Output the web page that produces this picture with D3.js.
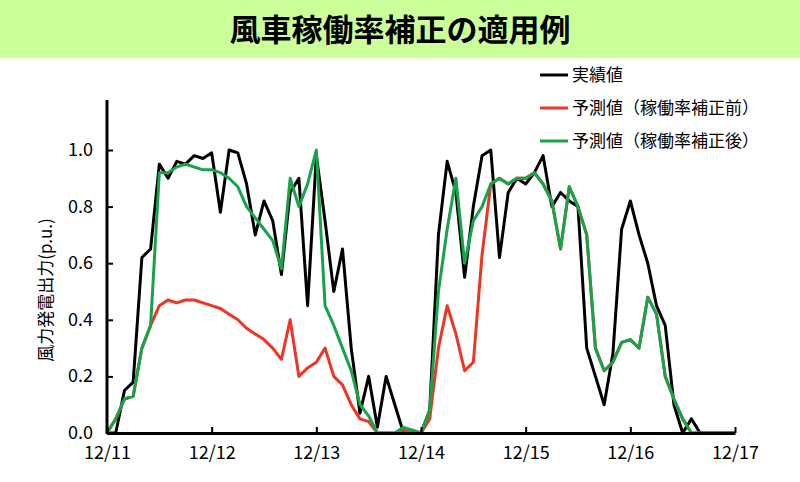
<!DOCTYPE html>
<html><head><meta charset="utf-8">
<script src="https://cdn.jsdelivr.net/npm/d3@7"></script>
<style>body{margin:0;background:#fff;font-family:"Noto Sans CJK JP","Noto Sans",sans-serif}</style>
</head><body><svg width="800" height="482"></svg>
<script>
// values every 2 hours from 12/11 00:00
const hours = d3.range(0, 145, 2);
const actual = [0,0,0.15,0.18,0.62,0.65, 0.95,0.9,0.96,0.95,0.98,0.97, 0.99,0.78,1.0,0.99,0.88,0.7,
  0.82,0.75,0.56,0.85,0.9,0.45, 0.98,0.75,0.5,0.65,0.3,0.07, 0.2,0.02,0.2,0.1,0,0,
  0,0.08,0.7,0.96,0.85,0.55, 0.8,0.98,1.0,0.62,0.85,0.9, 0.88,0.92,0.98,0.8,0.85,0.82,
  0.8,0.3,0.2,0.1,0.28,0.72, 0.82,0.7,0.6,0.45,0.38,0.1, 0,0.05,0,0,0,0,0];
const before = [0,0.05,0.12,0.13,0.3,0.38, 0.45,0.47,0.46,0.47,0.47,0.46, 0.45,0.44,0.42,0.40,0.37,0.35,
  0.33,0.3,0.26,0.4,0.2,0.23, 0.25,0.3,0.2,0.17,0.1,0.05, 0.04,0,0,0,0.01,0.01,
  0,0.05,0.3,0.45,0.35,0.22, 0.25,0.63,0.88,0.9,0.88,0.9, 0.9,0.92,0.88,0.82,0.65,0.87,
  0.8,0.7,0.3,0.22,0.25,0.32, 0.33,0.3,0.48,0.42,0.2,0.12, 0.05,0,0,0,0,0,0];
const after = [0,0.05,0.12,0.13,0.3,0.38, 0.92,0.92,0.94,0.95,0.94,0.93, 0.93,0.92,0.9,0.87,0.8,0.76,
  0.72,0.68,0.58,0.9,0.8,0.88, 1.0,0.45,0.38,0.3,0.22,0.1, 0.06,0,0,0,0.02,0.01,
  0,0.08,0.5,0.72,0.9,0.6, 0.75,0.8,0.88,0.9,0.88,0.9, 0.9,0.92,0.88,0.82,0.65,0.87,
  0.8,0.7,0.3,0.22,0.25,0.32, 0.33,0.3,0.48,0.42,0.2,0.12, 0.05,0,0,0,0,0,0];
const dayLabels = ["12/11","12/12","12/13","12/14","12/15","12/16","12/17"];
const yTicks = [0,0.2,0.4,0.6,0.8,1.0];
const series = [
  {name:"実績値", values:actual, color:"#000000"},
  {name:"予測値(稼働率補正前)", values:before, color:"#ee3524"},
  {name:"予測値(稼働率補正後)", values:after, color:"#16a34a"}
];

const svg = d3.select("svg");
svg.append("rect").attr("width",800).attr("height",58).attr("fill","#ccff99");
svg.append("text").attr("x",400).attr("y",41).attr("text-anchor","middle")
  .style("font-size","31px").style("font-weight","bold").text("風車稼働率補正の適用例");

const x = d3.scaleLinear().domain([0,144]).range([107,735]);
const y = d3.scaleLinear().domain([0,1]).range([433,150]);

const line = d3.line().x((d,i) => x(hours[i])).y(d => y(d));
series.forEach(s => {
  svg.append("path").datum(s.values).attr("d",line).attr("fill","none")
    .attr("stroke",s.color).attr("stroke-width",3).attr("stroke-linejoin","round");
});

const yAxis = d3.axisLeft(y).tickValues(yTicks).tickFormat(d3.format(".1f")).tickSizeInner(-6).tickSizeOuter(0).tickPadding(14);
const ya = svg.append("g").attr("transform","translate(107,0)").call(yAxis);
ya.select(".domain").remove();
ya.append("line").attr("x1",0).attr("x2",0).attr("y1",100).attr("y2",434).attr("stroke","#000").attr("stroke-width",3);
const xAxis = d3.axisBottom(x).tickValues(d3.range(0,145,24)).tickFormat((d,i) => dayLabels[i]).tickSizeInner(-6).tickSizeOuter(0).tickPadding(13);
const xa = svg.append("g").attr("transform","translate(0,433)").call(xAxis);
[ya, xa].forEach(a => {
  a.selectAll("text").style("font-size","18px").attr("fill","#000").style("font-family","'Noto Sans CJK JP'");
  a.selectAll(".tick line").attr("stroke-width",2);
});
ya.selectAll("text").attr("dy","0.3em");
xa.select(".domain").attr("stroke-width",3);

svg.append("text").attr("transform","translate(52,290) rotate(-90)").attr("text-anchor","middle")
  .style("font-size","17px").text("風力発電出力(p.u.)");

series.forEach((s,i) => {
  const ly = 75 + i*33;
  svg.append("line").attr("x1",540).attr("x2",568).attr("y1",ly).attr("y2",ly).attr("stroke",s.color).attr("stroke-width",3);
  svg.append("text").attr("x",572).attr("y",ly+6).style("font-size","17px").text(s.name.replace("(","（").replace(")","）"));
});
</script></body></html>
